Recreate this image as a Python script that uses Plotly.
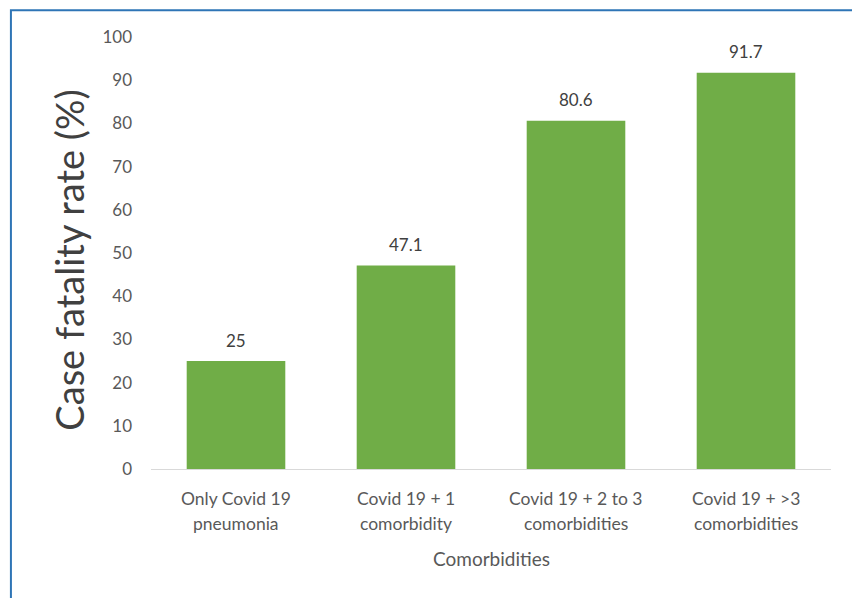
import plotly.graph_objects as go

categories = ["Only Covid 19 pneumonia", "Covid 19 + 1 comorbidity",
              "Covid 19 + 2 to 3 comorbidities", "Covid 19 + >3 comorbidities"]
label_line1 = ["Only Covid 19", "Covid 19 + 1", "Covid 19 + 2 to 3", "Covid 19 + >3"]
label_line2 = ["pneumonia", "comorbidity", "comorbidities", "comorbidities"]
fatality_rate = [25, 47.1, 80.6, 91.7]
y_ticks = [0, 10, 20, 30, 40, 50, 60, 70, 80, 90, 100]

FONT = "Lato, Open Sans, sans-serif"
GREY = "#595959"

fig = go.Figure(go.Bar(
    x=categories,
    y=fatality_rate,
    marker=dict(color="#70AD47", line=dict(width=0)),
    width=0.58,
))

annotations = []
# value labels above each bar
for cat, v in zip(categories, fatality_rate):
    annotations.append(dict(
        x=cat, y=v, xref="x", yref="y", text=f"{v:g}", showarrow=False,
        yanchor="middle", yshift=21,
        font=dict(family=FONT, size=17, color="#404040"),
    ))
# two-line category labels under the axis
for cat, l1, l2 in zip(categories, label_line1, label_line2):
    for txt, shift in ((l1, -29), (l2, -54)):
        annotations.append(dict(
            x=cat, y=0, xref="x", yref="paper", text=txt, showarrow=False,
            yanchor="middle", yshift=shift,
            font=dict(family=FONT, size=17.5, color=GREY),
        ))
# axis titles
annotations.append(dict(
    text="Comorbidities", xref="paper", yref="paper", x=0.5, y=0,
    yanchor="middle", yshift=-89, showarrow=False,
    font=dict(family=FONT, size=19, color=GREY),
))
annotations.append(dict(
    text="Case fatality rate (%)", textangle=-90,
    xref="paper", yref="paper", x=-0.121, y=0.484,
    xanchor="center", yanchor="middle", showarrow=False,
    font=dict(size=38, color="#404040", family=FONT),
))

fig.update_layout(
    width=852, height=598,
    paper_bgcolor="white", plot_bgcolor="white",
    margin=dict(l=151, r=21, t=37, b=129),
    showlegend=False,
    font=dict(family=FONT, color=GREY),
    xaxis=dict(
        showgrid=False, showline=True, linecolor="#D9D9D9", linewidth=1,
        ticks="", showticklabels=False,
    ),
    yaxis=dict(
        range=[0, 100], tickvals=y_ticks, showgrid=False, showline=False,
        zeroline=False, ticks="", ticklabelstandoff=18,
        tickfont=dict(size=17, color=GREY),
    ),
    annotations=annotations,
    shapes=[dict(
        type="rect", xref="paper", yref="paper",
        x0=-0.206, x1=1.1, y0=-0.5, y1=1.062,
        line=dict(color="#2E75B6", width=2), fillcolor="rgba(0,0,0,0)",
        layer="above",
    )],
)

fig.write_html("out.html")
